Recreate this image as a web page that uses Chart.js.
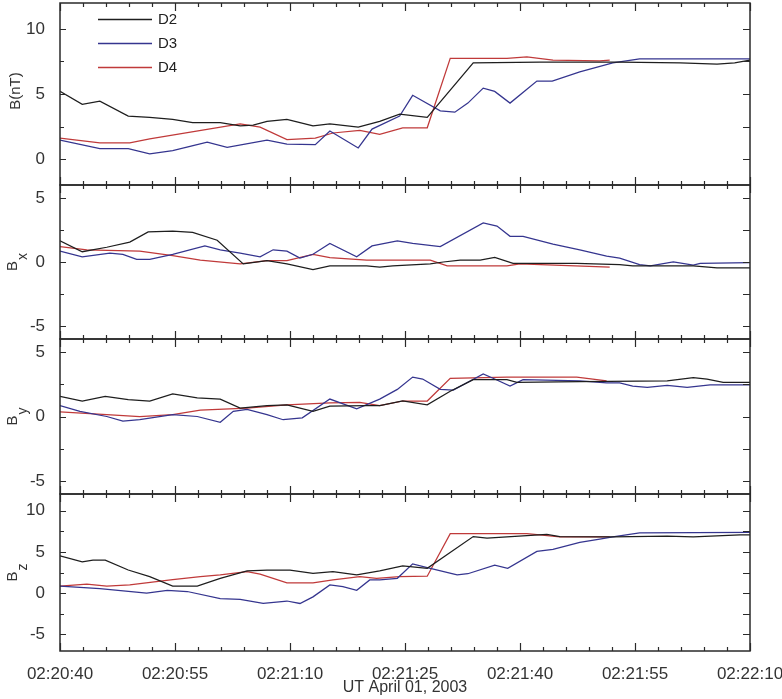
<!DOCTYPE html>
<html><head><meta charset="utf-8">
<script src="https://cdn.jsdelivr.net/npm/chart.js@4"></script>
<style>
html,body{margin:0;padding:0;background:#fff;}
#wrap{position:relative;width:782px;height:699px;overflow:hidden;}
.p{position:absolute;left:0;width:782px;}
</style></head><body><div id="wrap"></div>
<script>
// ---- time in seconds after 02:20:40 UT ----
// |B| panel
const B_D2_t = [0, 2.9, 5.2, 8.9, 11.7, 14.7, 17.3, 20.9, 23.5, 25.2, 27.0, 29.6, 33.0, 35.2, 38.9, 41.7, 44.3, 47.9, 53.9, 62.6, 73.0, 80.9, 85.7, 88.0, 90];
const B_D2_v = [5.2, 4.2, 4.45, 3.3, 3.2, 3.05, 2.8, 2.8, 2.55, 2.6, 2.9, 3.05, 2.55, 2.7, 2.45, 2.9, 3.45, 3.2, 7.4, 7.45, 7.45, 7.4, 7.3, 7.4, 7.6];
const B_D3_t = [0, 5.2, 8.9, 11.7, 14.7, 19.2, 21.8, 27.0, 29.6, 33.3, 35.2, 38.9, 40.7, 44.3, 46.0, 49.6, 51.5, 53.2, 55.2, 56.7, 58.7, 62.2, 64.2, 67.8, 72.1, 75.6, 90];
const B_D3_v = [1.45, 0.8, 0.8, 0.4, 0.65, 1.3, 0.9, 1.45, 1.15, 1.1, 2.15, 0.85, 2.3, 3.3, 4.9, 3.7, 3.6, 4.3, 5.45, 5.2, 4.3, 6.0, 6.0, 6.7, 7.4, 7.7, 7.7];
const B_D4_t = [0, 5.2, 9.1, 11.7, 23.5, 26.1, 29.6, 33.3, 35.6, 39.1, 41.7, 44.7, 47.9, 50.9, 58.3, 60.9, 64.3, 70.4, 71.7];
const B_D4_v = [1.6, 1.25, 1.25, 1.55, 2.7, 2.45, 1.5, 1.6, 2.0, 2.2, 1.9, 2.4, 2.4, 7.75, 7.75, 7.85, 7.6, 7.55, 7.6];
// Bx panel
const X_D2_t = [0, 2.9, 6.1, 9.1, 11.5, 14.7, 17.3, 20.5, 23.9, 27.0, 29.6, 33.0, 35.2, 40.0, 41.7, 43.4, 48.3, 50.0, 52.2, 54.8, 56.7, 59.1, 67.4, 73.0, 74.7, 82.6, 85.7, 90];
const X_D2_v = [1.65, 0.8, 1.15, 1.55, 2.35, 2.4, 2.3, 1.7, -0.15, 0.1, -0.15, -0.6, -0.3, -0.3, -0.4, -0.3, -0.15, 0.0, 0.15, 0.15, 0.35, -0.1, -0.1, -0.2, -0.3, -0.3, -0.45, -0.45];
const X_D3_t = [0, 2.9, 6.5, 8.2, 10.0, 11.7, 14.7, 18.9, 20.9, 23.5, 26.1, 27.8, 29.6, 31.3, 33.0, 35.2, 38.7, 40.7, 44.0, 46.0, 49.6, 55.2, 57.0, 58.7, 60.4, 64.3, 67.8, 71.3, 73.0, 75.6, 77.0, 80.0, 82.6, 83.5, 90];
const X_D3_v = [0.85, 0.4, 0.7, 0.6, 0.2, 0.2, 0.6, 1.25, 0.95, 0.7, 0.4, 0.95, 0.85, 0.3, 0.6, 1.45, 0.4, 1.25, 1.65, 1.45, 1.2, 3.05, 2.8, 2.0, 2.0, 1.4, 0.95, 0.45, 0.3, -0.2, -0.3, 0.0, -0.25, -0.1, -0.05];
const X_D4_t = [0, 3.5, 10.4, 14.7, 18.3, 23.5, 27.0, 29.6, 33.0, 35.2, 40.0, 48.3, 50.5, 58.3, 60.0, 71.7];
const X_D4_v = [1.2, 0.95, 0.85, 0.5, 0.15, -0.15, 0.1, 0.1, 0.6, 0.35, 0.15, 0.15, -0.3, -0.3, -0.15, -0.4];
// By panel
const Y_D2_t = [0, 2.9, 5.9, 8.9, 11.7, 14.7, 17.9, 20.9, 23.5, 27.0, 29.6, 33.0, 35.2, 40.0, 41.7, 44.7, 47.9, 50.9, 53.9, 58.3, 59.6, 67.8, 79.2, 82.6, 84.4, 86.5, 90];
const Y_D2_v = [1.55, 1.2, 1.55, 1.3, 1.2, 1.75, 1.45, 1.35, 0.65, 0.85, 0.9, 0.4, 0.8, 0.85, 0.85, 1.2, 0.9, 1.95, 2.85, 2.85, 2.65, 2.7, 2.75, 3.0, 2.9, 2.65, 2.65];
const Y_D3_t = [0, 2.6, 6.1, 8.2, 10.4, 14.7, 17.9, 20.9, 22.6, 24.4, 27.0, 29.1, 31.6, 35.2, 38.7, 41.7, 44.0, 46.0, 47.3, 49.6, 51.3, 55.2, 56.7, 58.7, 60.4, 67.8, 71.3, 73.0, 74.7, 76.6, 79.2, 81.8, 84.8, 90];
const Y_D3_v = [0.85, 0.4, 0.0, -0.35, -0.25, 0.15, 0.0, -0.45, 0.4, 0.55, 0.15, -0.25, -0.1, 1.35, 0.6, 1.35, 2.1, 3.05, 2.9, 2.1, 2.05, 3.3, 2.9, 2.35, 2.85, 2.75, 2.6, 2.6, 2.35, 2.25, 2.4, 2.25, 2.45, 2.45];
const Y_D4_t = [0, 6.1, 10.4, 14.7, 18.3, 24.4, 29.6, 35.2, 39.1, 41.7, 44.7, 47.9, 50.9, 58.3, 67.4, 69.5, 71.3];
const Y_D4_v = [0.35, 0.15, 0.0, 0.15, 0.5, 0.65, 0.9, 1.05, 1.1, 0.85, 1.2, 1.2, 2.95, 3.05, 3.05, 2.9, 2.75];
// Bz panel
const Z_D2_t = [0, 2.9, 4.3, 5.9, 8.9, 11.7, 14.7, 17.9, 20.9, 24.4, 27.0, 30.0, 33.0, 35.6, 38.7, 41.7, 44.7, 47.9, 53.9, 55.7, 60.9, 63.5, 65.2, 72.1, 79.2, 82.6, 88.7, 90];
const Z_D2_v = [4.5, 3.8, 4.0, 4.0, 2.8, 2.0, 0.85, 0.85, 1.8, 2.7, 2.8, 2.8, 2.4, 2.6, 2.2, 2.7, 3.3, 3.0, 6.85, 6.65, 6.95, 7.1, 6.85, 6.8, 6.9, 6.8, 7.05, 7.05];
const Z_D3_t = [0, 5.2, 11.3, 14.0, 16.6, 20.9, 23.5, 26.5, 29.6, 31.3, 33.0, 35.2, 36.9, 38.7, 40.4, 41.7, 44.0, 46.0, 47.9, 51.8, 53.2, 56.7, 58.4, 62.2, 64.3, 67.8, 70.4, 72.1, 75.6, 90];
const Z_D3_v = [0.85, 0.55, 0.0, 0.35, 0.2, -0.65, -0.75, -1.25, -0.95, -1.25, -0.45, 1.0, 0.8, 0.35, 1.6, 1.6, 1.8, 3.55, 3.1, 2.2, 2.35, 3.4, 3.0, 5.05, 5.3, 6.15, 6.55, 6.8, 7.3, 7.35];
const Z_D4_t = [0, 3.5, 6.1, 9.1, 14.7, 18.3, 20.9, 24.4, 26.1, 29.6, 33.0, 35.6, 39.1, 41.3, 44.3, 47.9, 50.9, 60.9, 65.2, 71.7];
const Z_D4_v = [0.85, 1.1, 0.85, 1.0, 1.65, 2.0, 2.2, 2.6, 2.3, 1.25, 1.25, 1.6, 2.0, 1.8, 2.0, 2.05, 7.2, 7.2, 6.8, 6.8];

// ---- axes / labels ----
const xTickValues = [0, 15, 30, 45, 60, 75, 90];
const xTickLabels = ['02:20:40', '02:20:55', '02:21:10', '02:21:25', '02:21:40', '02:21:55', '02:22:10'];
const xMinorStep = 3;
const yMinorStep = 2.5;
const xTitle = 'UT April 01, 2003';
const seriesNames = ['D2', 'D3', 'D4'];
const panelTitles = [['B(nT)', ''], ['B', 'x'], ['B', 'y'], ['B', 'z']];
const panelRanges = [[-2, 12], [-6, 6], [-6, 6], [-7, 12]];
const panelMajorTicks = [[0, 5, 10], [-5, 0, 5], [-5, 0, 5], [-5, 0, 5, 10]];
const panelSeries = [
  [[B_D2_t, B_D2_v], [B_D3_t, B_D3_v], [B_D4_t, B_D4_v]],
  [[X_D2_t, X_D2_v], [X_D3_t, X_D3_v], [X_D4_t, X_D4_v]],
  [[Y_D2_t, Y_D2_v], [Y_D3_t, Y_D3_v], [Y_D4_t, Y_D4_v]],
  [[Z_D2_t, Z_D2_v], [Z_D3_t, Z_D3_v], [Z_D4_t, Z_D4_v]]
];

// ---- styles / layout ----
const COLORS = ['#1e1e1e', '#35358f', '#c03a3a'];
const FONT = '"Liberation Sans", Arial, sans-serif';
const TEXT = '#333';
const layoutBoxes = [
  {divTop: 0, divH: 197, padTop: 3, padBot: 12, titleX: 20},
  {divTop: 173, divH: 178, padTop: 12, padBot: 12, titleX: 17},
  {divTop: 327, divH: 179, padTop: 12, padBot: 12, titleX: 17},
  {divTop: 482, divH: 217, padTop: 12, padBot: 0, titleX: 17}
];

const framePlugin = {
  id: 'frame',
  afterDatasetsDraw(chart, args, opts) {
    const {ctx, chartArea: a} = chart;
    const x = chart.scales.x, y = chart.scales.y;
    const i = opts.index;
    const [ymin, ymax] = panelRanges[i];
    ctx.save();
    ctx.strokeStyle = '#2a2a2a';
    ctx.lineWidth = 1.5;
    ctx.strokeRect(a.left, a.top, a.right - a.left, a.bottom - a.top);
    ctx.lineWidth = 1.2;
    ctx.beginPath();
    for (let k = 0; k * xMinorStep <= 90; k++) {
      const t = k * xMinorStep;
      const px = Math.round(x.getPixelForValue(t)) + 0.5;
      const len = (t % 15 === 0) ? 8 : 4;
      ctx.moveTo(px, a.top); ctx.lineTo(px, a.top + len);
      ctx.moveTo(px, a.bottom); ctx.lineTo(px, a.bottom - len);
    }
    for (let v = Math.ceil(ymin / yMinorStep) * yMinorStep; v < ymax; v += yMinorStep) {
      if (v <= ymin) continue;
      const py = Math.round(y.getPixelForValue(v)) + 0.5;
      const major = Math.abs(v % 5) < 1e-6;
      ctx.moveTo(a.left, py); ctx.lineTo(a.left + (major ? 6 : 4), py);
      ctx.moveTo(a.right, py); ctx.lineTo(a.right - 7, py);
    }
    ctx.stroke();

    // y title (rotated, with subscript)
    const [main, sub] = panelTitles[i];
    const cy = (a.top + a.bottom) / 2 - (i === 0 ? 3 : 0);
    ctx.fillStyle = TEXT;
    ctx.translate(layoutBoxes[i].titleX, cy);
    ctx.rotate(-Math.PI / 2);
    ctx.textBaseline = 'alphabetic';
    ctx.font = '15px ' + FONT;
    const wm = ctx.measureText(main).width;
    ctx.font = '14px ' + FONT;
    const ws = sub ? ctx.measureText(sub).width + 1 : 0;
    const x0 = -(wm + ws) / 2;
    ctx.font = '15px ' + FONT;
    ctx.fillText(main, x0, 0);
    if (sub) { ctx.font = '14px ' + FONT; ctx.fillText(sub, x0 + wm + 1, 10); }
    ctx.restore();

    // legend in first panel
    if (i === 0) {
      ctx.save();
      ctx.font = '15px ' + FONT;
      ctx.textBaseline = 'middle';
      ctx.lineWidth = 1.3;
      seriesNames.forEach((n, s) => {
        const ly = a.top + 16 + s * 24;
        ctx.strokeStyle = COLORS[s];
        ctx.beginPath(); ctx.moveTo(a.left + 38, ly + 0.5); ctx.lineTo(a.left + 92, ly + 0.5); ctx.stroke();
        ctx.fillStyle = '#222';
        ctx.fillText(n, a.left + 98, ly + 1);
      });
      ctx.restore();
    }
  }
};

const wrap = document.getElementById('wrap');
panelSeries.forEach((series, i) => {
  const L = layoutBoxes[i];
  const div = document.createElement('div');
  div.className = 'p';
  div.style.top = L.divTop + 'px';
  div.style.height = L.divH + 'px';
  const cv = document.createElement('canvas');
  div.appendChild(cv);
  wrap.appendChild(div);
  const last = i === panelSeries.length - 1;
  new Chart(cv, {
    type: 'line',
    data: {
      datasets: series.map(([ts, vs], s) => ({
        label: seriesNames[s],
        data: ts.map((t, k) => ({x: t, y: vs[k]})),
        borderColor: COLORS[s],
        borderWidth: 1.25,
        pointRadius: 0,
        fill: false,
        tension: 0
      }))
    },
    options: {
      responsive: true,
      maintainAspectRatio: false,
      animation: false,
      events: [],
      layout: {padding: {top: L.padTop, bottom: L.padBot, left: 0, right: 32}},
      plugins: {legend: {display: false}, tooltip: {enabled: false}, frame: {index: i}},
      scales: {
        x: {
          type: 'linear', min: 0, max: 90,
          display: last,
          grid: {display: false}, border: {display: false},
          afterBuildTicks: (s) => { s.ticks = xTickValues.map(v => ({value: v})); },
          afterFit: (s) => { if (last) s.height = 48; s.paddingLeft = 0; s.paddingRight = 0; },
          ticks: {
            autoSkip: false, maxRotation: 0, padding: 5, color: TEXT,
            font: {family: FONT, size: 17},
            callback: (v) => xTickLabels[xTickValues.indexOf(v)]
          },
          title: {display: true, text: xTitle, color: TEXT, font: {family: FONT, size: 16}, padding: {top: 0, bottom: 2}}
        },
        y: {
          type: 'linear', min: panelRanges[i][0], max: panelRanges[i][1],
          grid: {display: false}, border: {display: false},
          afterBuildTicks: (s) => { s.ticks = panelMajorTicks[i].map(v => ({value: v})); },
          afterFit: (s) => { s.width = 60; s.paddingTop = 0; s.paddingBottom = 0; },
          ticks: {padding: 7, color: TEXT, font: {family: FONT, size: 17}}
        }
      }
    },
    plugins: [framePlugin]
  });
});
</script>
</body></html>
